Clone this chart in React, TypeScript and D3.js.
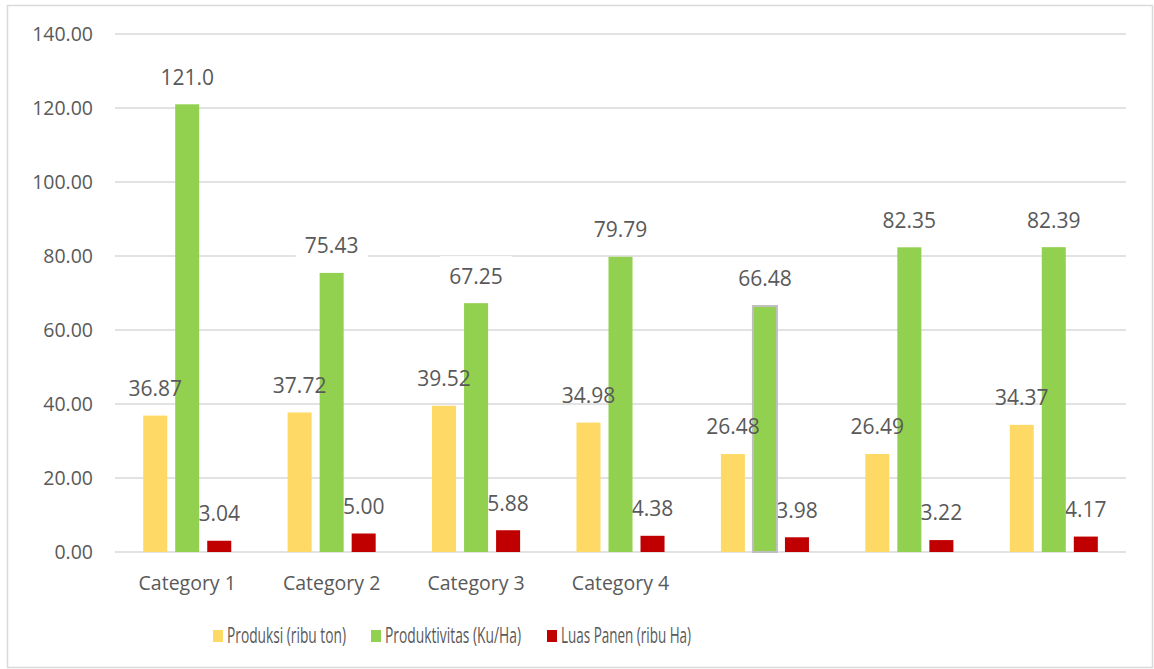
import React from 'react';
import * as d3 from 'd3';

// chart data
const categories = ['Category 1', 'Category 2', 'Category 3', 'Category 4', '', '', ''];
const produksi = [36.87, 37.72, 39.52, 34.98, 26.48, 26.49, 34.37];
const produktivitas = [121.0, 75.43, 67.25, 79.79, 66.48, 82.35, 82.39];
const luasPanen = [3.04, 5.0, 5.88, 4.38, 3.98, 3.22, 4.17];
const yTicks = [0, 20, 40, 60, 80, 100, 120, 140];

const seriesNames = ['Produksi (ribu ton)', 'Produktivitas (Ku/Ha)', 'Luas Panen (ribu Ha)'];
const seriesValues = [produksi, produktivitas, luasPanen];
const seriesColors = ['#FFD966', '#92D050', '#C00000'];
const labelFormats = [(v: number) => v.toFixed(2), (v: number) => (v >= 100 ? v.toFixed(1) : v.toFixed(2)), (v: number) => v.toFixed(2)];

const W = 1154;
const H = 669;
const plot = { left: 115, right: 1126, top: 34, bottom: 552 };
const textColor = '#595959';
const gridColor = '#d9d9d9';
const font = "'Open Sans', 'Noto Sans', sans-serif";

const App: React.FC = () => {
  const x = d3.scaleBand<number>()
    .domain(d3.range(categories.length))
    .range([plot.left, plot.right]);

  const xInner = d3.scaleBand<number>()
    .domain(d3.range(seriesNames.length))
    .range([0, x.bandwidth()])
    .paddingInner(0.25)
    .paddingOuter(0.88);

  const y = d3.scaleLinear().domain([0, 140]).range([plot.bottom, plot.top]);

  const bars = categories.flatMap((_, ci) =>
    seriesValues.map((vals, si) => ({
      ci,
      si,
      value: vals[ci],
      x: (x(ci) ?? 0) + (xInner(si) ?? 0),
    }))
  );

  const bw = xInner.bandwidth();
  const labelGap = 27;

  const dataLabel = (b: typeof bars[number]) => (
    <text
      key={`l-${b.ci}-${b.si}`}
      x={b.x + bw / 2}
      y={y(b.value) - labelGap}
      dy="0.35em"
      textAnchor="middle"
      fontSize={21}
      fill={textColor}
    >
      {labelFormats[b.si](b.value)}
    </text>
  );

  // legend layout (the original uses a narrow face, so squeeze the text)
  const legendItems = [
    { sx: 213, tx: 227, len: 119 },
    { sx: 371, tx: 385, len: 136 },
    { sx: 547, tx: 561, len: 130 },
  ];
  const legendY = 636;
  const squeeze = 0.68;

  return (
    <svg width={W} height={H} style={{ position: 'absolute', left: 0, top: 0, fontFamily: font, background: '#fff' }}>
      <rect x={7.5} y={5.5} width={1145} height={662} fill="#fff" stroke={gridColor} strokeWidth={1.5} />

      {/* gridlines and y tick labels */}
      {yTicks.map((t) => (
        <g key={t}>
          <line x1={plot.left} x2={plot.right} y1={y(t)} y2={y(t)} stroke={gridColor} strokeWidth={1.5} />
          <text x={93} y={y(t)} dy="0.35em" textAnchor="end" fontSize={19.5} fill={textColor}>
            {t.toFixed(2)}
          </text>
        </g>
      ))}

      {/* red labels sit below the bars in the original */}
      {bars.filter((b) => b.si === 2).map(dataLabel)}

      {/* bars */}
      {bars.map((b) => {
        const highlighted = b.si === 1 && b.ci === 4;
        return (
          <rect
            key={`b-${b.ci}-${b.si}`}
            x={b.x}
            y={y(b.value)}
            width={bw}
            height={y(0) - y(b.value)}
            fill={seriesColors[b.si]}
            stroke={highlighted ? '#bfbfbf' : 'none'}
            strokeWidth={highlighted ? 2 : 0}
          />
        );
      })}

      {/* yellow labels */}
      {bars.filter((b) => b.si === 0).map(dataLabel)}

      {/* green labels on white boxes */}
      {bars.filter((b) => b.si === 1).map((b) => (
        <g key={`g-${b.ci}`}>
          <rect x={b.x + bw / 2 - 36} y={y(b.value) - labelGap - 20} width={72} height={40} fill="#fff" />
          {dataLabel(b)}
        </g>
      ))}

      {/* category labels */}
      {categories.map((c, i) => (
        <text
          key={`c-${i}`}
          x={(x(i) ?? 0) + x.bandwidth() / 2}
          y={583}
          dy="0.35em"
          textAnchor="middle"
          fontSize={19.5}
          fill={textColor}
        >
          {c}
        </text>
      ))}

      {/* legend */}
      {seriesNames.map((name, i) => (
        <g key={name}>
          <rect x={legendItems[i].sx} y={legendY - 6} width={10} height={12} fill={seriesColors[i]} />
          <g transform={`translate(${legendItems[i].tx},${legendY}) scale(${squeeze},1)`}>
            <text
              dy="0.35em"
              fontSize={21}
              fill={textColor}
              textLength={legendItems[i].len / squeeze}
              lengthAdjust="spacingAndGlyphs"
            >
              {name}
            </text>
          </g>
        </g>
      ))}
    </svg>
  );
};

export default App;
